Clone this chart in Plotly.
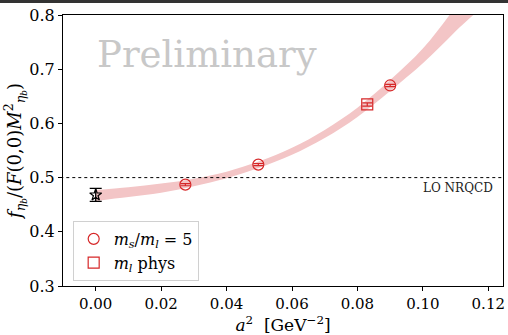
import plotly.graph_objects as go

# Lattice data points
a2_ms5 = [0.0274, 0.0497, 0.0900]
f_ms5 = [0.487, 0.524, 0.670]
err_ms5 = [0.002, 0.002, 0.002]

a2_phys = [0.0830]
f_phys = [0.635]
err_phys = [0.003]

# Continuum extrapolated value
a2_cont = [0.0]
f_cont = [0.468]
err_cont = [0.012]

# Fit band (upper and lower edges)
band_x = [0.0, 0.01, 0.02, 0.03, 0.04, 0.05, 0.06, 0.07, 0.08, 0.09, 0.10, 0.11, 0.12]
band_hi = [0.477, 0.482, 0.489, 0.498, 0.511, 0.530, 0.555, 0.588, 0.629, 0.680, 0.738, 0.815, 0.900]
band_lo = [0.457, 0.464, 0.472, 0.484, 0.499, 0.518, 0.542, 0.573, 0.612, 0.660, 0.711, 0.770, 0.835]

nrqcd_level = 0.5

x_ticks = [0.0, 0.02, 0.04, 0.06, 0.08, 0.10, 0.12]
y_ticks = [0.3, 0.4, 0.5, 0.6, 0.7, 0.8]

RED = "#d62728"
BAND = "#f3c5c6"
FONT = "DejaVu Serif"

fig = go.Figure()

fig.add_trace(go.Scatter(
    x=band_x + band_x[::-1], y=band_hi + band_lo[::-1],
    fill="toself", fillcolor=BAND, line=dict(width=0, shape="spline"),
    mode="lines", hoverinfo="skip", showlegend=False))

fig.add_trace(go.Scatter(
    x=[-0.02, 0.13], y=[nrqcd_level, nrqcd_level], mode="lines",
    line=dict(color="black", width=1, dash="dot"), showlegend=False))

fig.add_trace(go.Scatter(
    x=a2_ms5, y=f_ms5, mode="markers", name="<i>m<sub>s</sub></i>/<i>m<sub>l</sub></i> = 5",
    marker=dict(symbol="circle-open", size=11, color=RED, line=dict(width=1.2)),
    error_y=dict(type="data", array=err_ms5, color=RED, thickness=1.2, width=5)))

fig.add_trace(go.Scatter(
    x=a2_phys, y=f_phys, mode="markers", name="<i>m<sub>l</sub></i> phys",
    marker=dict(symbol="square-open", size=11, color=RED, line=dict(width=1.2)),
    error_y=dict(type="data", array=err_phys, color=RED, thickness=1.2, width=5)))

fig.add_trace(go.Scatter(
    x=a2_cont, y=f_cont, mode="markers", showlegend=False,
    marker=dict(symbol="star-open", size=9, color="black", line=dict(width=1.2)),
    error_y=dict(type="data", array=err_cont, color="black", thickness=1.3, width=6)))

fig.add_annotation(x=0.1221, y=nrqcd_level, xref="x", yref="y", text="LO NRQCD",
                   showarrow=False, xanchor="right", yanchor="top", yshift=-1,
                   font=dict(family=FONT, size=12, color="#222"))

fig.add_annotation(x=0.0, y=0.727, xref="x", yref="y", text="Preliminary",
                   showarrow=False, xanchor="left", yanchor="middle", xshift=-1,
                   font=dict(family=FONT, size=37, color="#c8c8c8"))

# dark strip along the top edge of the figure
fig.add_shape(type="rect", xref="paper", yref="paper", ysizemode="pixel", yanchor=1,
              x0=-0.2, x1=1.2, y0=12, y1=30,
              fillcolor="#333333", line=dict(width=0), layer="above")

fig.update_layout(
    width=508, height=335,
    margin=dict(l=63, r=3, t=15, b=49),
    plot_bgcolor="white", paper_bgcolor="white",
    font=dict(family=FONT, color="black"),
    legend=dict(x=0.022, y=0.24, xanchor="left", yanchor="top",
                bgcolor="rgba(255,255,255,0.8)", bordercolor="#d0d0d0", borderwidth=1,
                font=dict(family=FONT, size=16), itemwidth=30, tracegroupgap=0),
    xaxis=dict(range=[-0.01, 0.1245], tickvals=x_ticks,
               ticktext=[f"{v:.2f}" for v in x_ticks],
               showline=True, linecolor="black", linewidth=1, mirror=True,
               ticks="outside", ticklen=4, tickcolor="black", showgrid=False, zeroline=False,
               tickfont=dict(family=FONT, size=15), ticklabeloverflow="allow",
               title=dict(text="<i>a</i><sup>2</sup>  [GeV<sup>−2</sup>]", standoff=5,
                          font=dict(family=FONT, size=17))),
    yaxis=dict(range=[0.3, 0.8], tickvals=y_ticks,
               ticktext=[f"{v:.1f}" for v in y_ticks],
               showline=True, linecolor="black", linewidth=1, mirror=True,
               ticks="outside", ticklen=4, tickcolor="black", showgrid=False, zeroline=False,
               tickfont=dict(family=FONT, size=16),
               title=dict(text="<i>f</i><sub><i>η<sub>b</sub></i></sub>/(<i>F</i>(0,0)<i>M</i><sup>2</sup><sub><i>η<sub>b</sub></i></sub>)",
                          standoff=2, font=dict(family=FONT, size=18))),
)

fig.write_html("out.html")
